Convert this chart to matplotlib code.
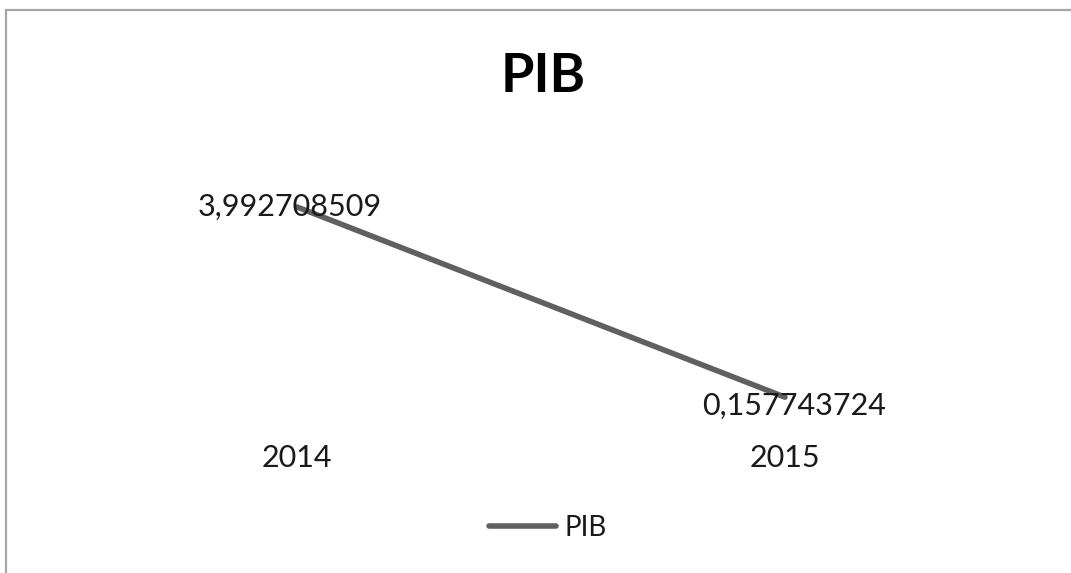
import matplotlib
matplotlib.use('Agg')
import matplotlib.pyplot as plt
from matplotlib.patches import Rectangle

# Daten
jahre = ['2014', '2015']
pib = [3.992708509, 0.157743724]
beschriftungen = ['3,992708509', '0,157743724']

W, H = 1071, 573
fig = plt.figure(figsize=(W / 100, H / 100), dpi=100)
plt.rcParams['font.family'] = ['Lato', 'DejaVu Sans']

# Rahmen (nur oben und links sichtbar)
fig.add_artist(Rectangle((5.5 / W, -0.2), 2, 1.2 - 10 / H, transform=fig.transFigure,
                         fill=False, edgecolor='#a6a6a6', lw=1.6))

ax = fig.add_axes([53 / W, (H - 405) / H, 976 / W, 248 / H])
x = list(range(len(jahre)))
ax.plot(x, pib, color='#606060', lw=4, solid_capstyle='round', label='PIB')
ax.set_xlim(-0.5, 1.5)
ax.set_ylim(0, 5)

versatz = [(-7, 0), (9, -9)]
for xi, yi, txt, (dx, dy) in zip(x, pib, beschriftungen, versatz):
    ax.annotate(txt, (xi, yi), xytext=(dx, dy), textcoords='offset pixels',
                ha='center', va='center', fontsize=22, color='#1a1a1a')

ax.set_xticks(x)
ax.set_xticklabels(jahre, fontsize=22, color='#1a1a1a')
ax.tick_params(axis='x', length=0, pad=28)
ax.set_yticks([])
for s in ax.spines.values():
    s.set_visible(False)

fig.text(543 / W, 1 - 77 / H, 'PIB', ha='center', va='center',
         fontsize=39, fontweight='bold', color='black')

fig.legend(loc='center', bbox_to_anchor=(548 / W, 1 - 528 / H), frameon=False,
           fontsize=20, handlelength=2.4, handletextpad=0.3, labelcolor='#1a1a1a')

fig.savefig('out.png', dpi=100)
